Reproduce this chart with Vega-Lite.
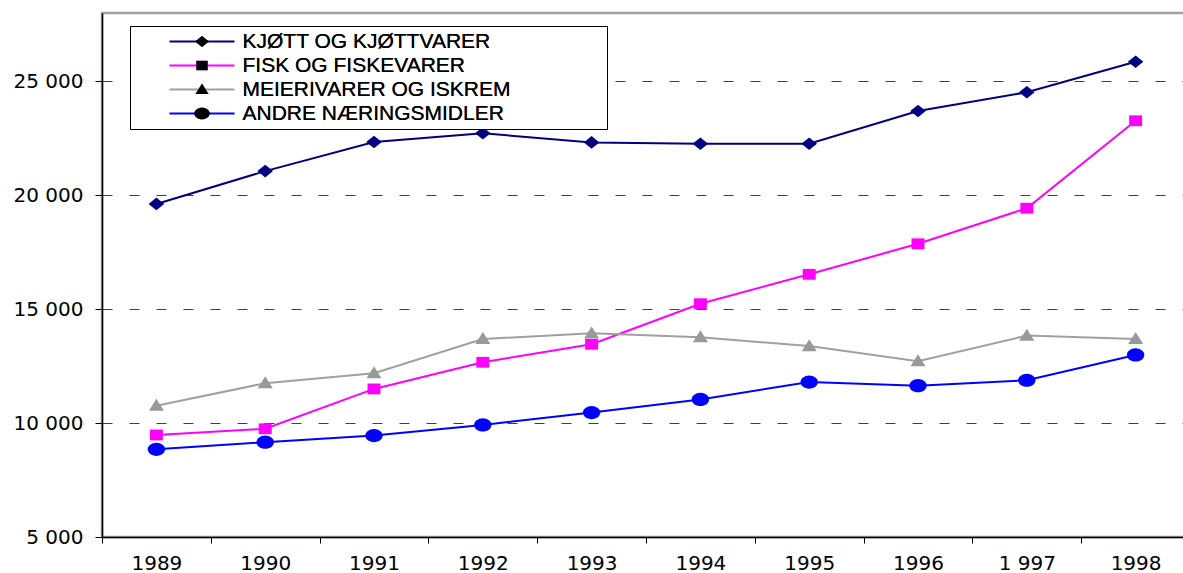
{
  "$schema": "https://vega.github.io/schema/vega-lite/v6.json",
  "width": 1088,
  "height": 524,
  "autosize": {"type": "none"},
  "padding": {"left": 102, "top": 13, "right": -7, "bottom": 36},
  "background": "white",
  "config": {"view": {"stroke": "#a0a0a0", "strokeWidth": 2.5}, "font": "Liberation Sans"},
  "data": {
    "values": [
      {"Year": "1989", "Series": "KJØTT OG KJØTTVARER", "Value": 19620},
      {"Year": "1990", "Series": "KJØTT OG KJØTTVARER", "Value": 21060},
      {"Year": "1991", "Series": "KJØTT OG KJØTTVARER", "Value": 22340},
      {"Year": "1992", "Series": "KJØTT OG KJØTTVARER", "Value": 22720},
      {"Year": "1993", "Series": "KJØTT OG KJØTTVARER", "Value": 22320},
      {"Year": "1994", "Series": "KJØTT OG KJØTTVARER", "Value": 22260},
      {"Year": "1995", "Series": "KJØTT OG KJØTTVARER", "Value": 22260},
      {"Year": "1996", "Series": "KJØTT OG KJØTTVARER", "Value": 23700},
      {"Year": "1 997", "Series": "KJØTT OG KJØTTVARER", "Value": 24520},
      {"Year": "1998", "Series": "KJØTT OG KJØTTVARER", "Value": 25860},
      {"Year": "1989", "Series": "FISK OG FISKEVARER", "Value": 9480},
      {"Year": "1990", "Series": "FISK OG FISKEVARER", "Value": 9750},
      {"Year": "1991", "Series": "FISK OG FISKEVARER", "Value": 11500},
      {"Year": "1992", "Series": "FISK OG FISKEVARER", "Value": 12670},
      {"Year": "1993", "Series": "FISK OG FISKEVARER", "Value": 13460},
      {"Year": "1994", "Series": "FISK OG FISKEVARER", "Value": 15240},
      {"Year": "1995", "Series": "FISK OG FISKEVARER", "Value": 16530},
      {"Year": "1996", "Series": "FISK OG FISKEVARER", "Value": 17870},
      {"Year": "1 997", "Series": "FISK OG FISKEVARER", "Value": 19430},
      {"Year": "1998", "Series": "FISK OG FISKEVARER", "Value": 23270},
      {"Year": "1989", "Series": "MEIERIVARER OG ISKREM", "Value": 10760},
      {"Year": "1990", "Series": "MEIERIVARER OG ISKREM", "Value": 11750},
      {"Year": "1991", "Series": "MEIERIVARER OG ISKREM", "Value": 12190},
      {"Year": "1992", "Series": "MEIERIVARER OG ISKREM", "Value": 13690},
      {"Year": "1993", "Series": "MEIERIVARER OG ISKREM", "Value": 13940},
      {"Year": "1994", "Series": "MEIERIVARER OG ISKREM", "Value": 13770},
      {"Year": "1995", "Series": "MEIERIVARER OG ISKREM", "Value": 13380},
      {"Year": "1996", "Series": "MEIERIVARER OG ISKREM", "Value": 12720},
      {"Year": "1 997", "Series": "MEIERIVARER OG ISKREM", "Value": 13840},
      {"Year": "1998", "Series": "MEIERIVARER OG ISKREM", "Value": 13690},
      {"Year": "1989", "Series": "ANDRE NÆRINGSMIDLER", "Value": 8850},
      {"Year": "1990", "Series": "ANDRE NÆRINGSMIDLER", "Value": 9160},
      {"Year": "1991", "Series": "ANDRE NÆRINGSMIDLER", "Value": 9450},
      {"Year": "1992", "Series": "ANDRE NÆRINGSMIDLER", "Value": 9920},
      {"Year": "1993", "Series": "ANDRE NÆRINGSMIDLER", "Value": 10460},
      {"Year": "1994", "Series": "ANDRE NÆRINGSMIDLER", "Value": 11040},
      {"Year": "1995", "Series": "ANDRE NÆRINGSMIDLER", "Value": 11800},
      {"Year": "1996", "Series": "ANDRE NÆRINGSMIDLER", "Value": 11640},
      {"Year": "1 997", "Series": "ANDRE NÆRINGSMIDLER", "Value": 11880},
      {"Year": "1998", "Series": "ANDRE NÆRINGSMIDLER", "Value": 12990}
    ]
  },
  "encoding": {
    "x": {
      "field": "Year",
      "type": "ordinal",
      "bandPosition": 0.5,
      "scale": {
        "type": "band",
        "domain": ["1989", "1990", "1991", "1992", "1993", "1994", "1995", "1996", "1 997", "1998"],
        "paddingInner": 0,
        "paddingOuter": 0
      },
      "axis": {
        "title": null,
        "tickBand": "extent",
        "tickSize": 6,
        "tickColor": "black",
        "domainColor": "black",
        "domainWidth": 1.5,
        "labelFont": "DejaVu Sans",
        "labelFontSize": 20,
        "labelColor": "black",
        "labelPadding": 10,
        "labelAngle": 0,
        "grid": false
      }
    },
    "y": {
      "field": "Value",
      "type": "quantitative",
      "scale": {"domain": [5000, 28000], "nice": false, "zero": false},
      "axis": {
        "title": null,
        "values": [5000, 10000, 15000, 20000, 25000],
        "labelExpr": "floor(datum.value / 1000) + ' 000'",
        "tickSize": 7,
        "tickColor": "black",
        "domainColor": "black",
        "domainWidth": 1.5,
        "labelFont": "DejaVu Sans",
        "labelFontSize": 20,
        "labelColor": "black",
        "labelPadding": 12,
        "grid": true,
        "gridColor": "#404040",
        "gridDash": [10, 17],
        "gridWidth": 1
      }
    },
    "color": {
      "field": "Series",
      "type": "nominal",
      "scale": {
        "domain": ["KJØTT OG KJØTTVARER", "FISK OG FISKEVARER", "MEIERIVARER OG ISKREM", "ANDRE NÆRINGSMIDLER"],
        "range": ["#000080", "#FF00FF", "#999999", "#0000FF"]
      },
      "legend": {
        "orient": "none",
        "legendX": 28,
        "legendY": 13,
        "title": " ",
        "titleOrient": "right",
        "titlePadding": 92,
        "titleFontSize": 4,
        "padding": 5,
        "rowPadding": 2,
        "symbolSize": 110,
        "symbolStrokeWidth": 2,
        "symbolOffset": 56.5,
        "labelOffset": 30,
        "labelFont": "Liberation Sans",
        "labelFontSize": 21,
        "labelColor": "black",
        "labelLimit": 500,
        "strokeColor": "black"
      }
    }
  },
  "layer": [
    {
      "mark": {"type": "line", "strokeWidth": 2},
      "encoding": {
        "stroke": {
          "field": "Series",
          "type": "nominal",
          "scale": {
            "domain": ["KJØTT OG KJØTTVARER", "FISK OG FISKEVARER", "MEIERIVARER OG ISKREM", "ANDRE NÆRINGSMIDLER"],
            "range": ["#000080", "#FF00FF", "#A0A0A0", "#0000FF"]
          },
          "legend": {
            "orient": "top-left",
            "offset": 13,
            "title": " ",
            "titleOrient": "right",
            "titlePadding": 92,
            "titleFontSize": 4,
            "padding": 5,
            "rowPadding": 2,
            "symbolType": "M-5.42,0H5.42",
            "symbolSize": 144,
            "symbolStrokeWidth": 2,
            "symbolOffset": 71.5,
            "labelOffset": 30,
            "labelFont": "Liberation Sans",
            "labelFontSize": 21,
            "labelOpacity": 0,
            "labelLimit": 500,
            "fillColor": "white"
          }
        }
      }
    },
    {
      "mark": {"type": "point", "filled": true, "opacity": 1, "size": 144, "strokeWidth": 0},
      "encoding": {
        "shape": {
          "field": "Series",
          "type": "nominal",
          "scale": {
            "domain": ["KJØTT OG KJØTTVARER", "FISK OG FISKEVARER", "MEIERIVARER OG ISKREM", "ANDRE NÆRINGSMIDLER"],
            "range": [
              "M0,-1.05L1.3,0L0,1.05L-1.3,0Z",
              "M-1.08,-0.9H1.08V0.9H-1.08Z",
              "M0,-1.15L1.25,0.85H-1.25Z",
              "M-1.45,0A1.45,1.1 0 1,0 1.45,0A1.45,1.1 0 1,0 -1.45,0Z"
            ]
          },
          "legend": {
            "orient": "none",
            "legendX": 28,
            "legendY": 13,
            "title": " ",
            "titleOrient": "right",
            "titlePadding": 92,
            "titleFontSize": 4,
            "padding": 5,
            "rowPadding": 2,
            "symbolSize": 110,
            "symbolStrokeWidth": 2,
            "symbolOffset": 56.5,
            "labelOffset": 30,
            "labelFont": "Liberation Sans",
            "labelFontSize": 21,
            "labelColor": "black",
            "labelLimit": 500,
            "strokeColor": "black"
          }
        }
      }
    }
  ]
}
